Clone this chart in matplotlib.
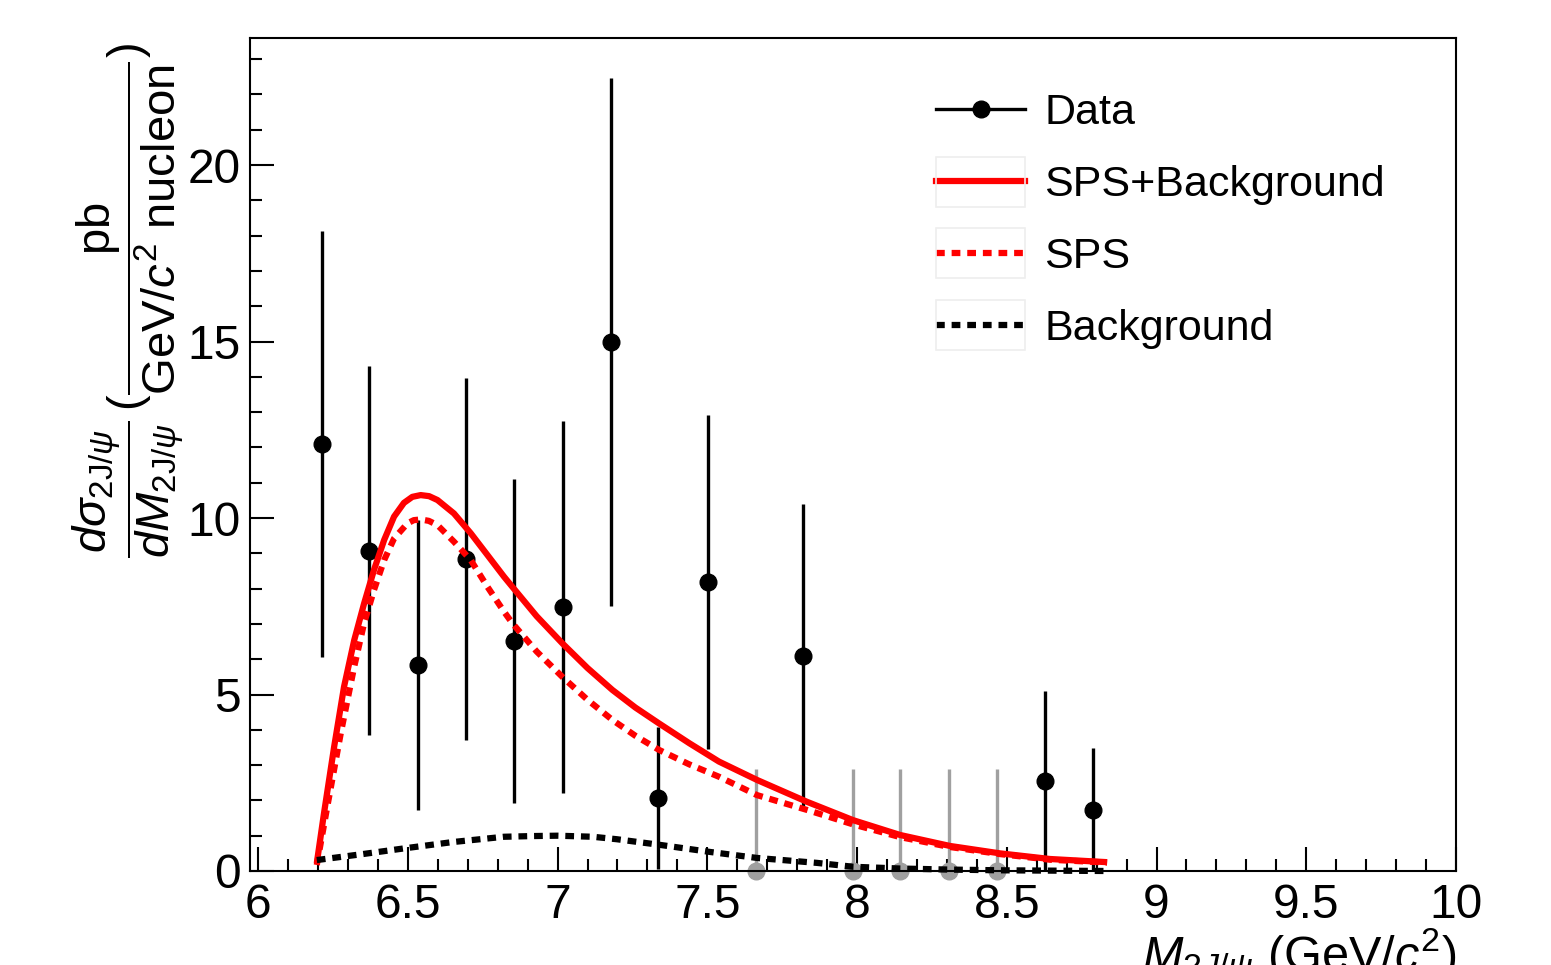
import matplotlib
matplotlib.use("Agg")
import matplotlib.pyplot as plt
from matplotlib.lines import Line2D
from matplotlib.patches import Rectangle
from matplotlib.ticker import MultipleLocator

plt.rcParams['font.family'] = ['Liberation Sans', 'DejaVu Sans']
plt.rcParams['mathtext.fontset'] = 'custom'
plt.rcParams['mathtext.rm'] = 'Liberation Sans'
plt.rcParams['mathtext.it'] = 'Liberation Sans:italic'
plt.rcParams['mathtext.bf'] = 'Liberation Sans:bold'

# ---- data ----
data_x = [6.212, 6.372, 6.533, 6.693, 6.853, 7.017, 7.177, 7.337, 7.501,
          7.821, 8.628, 8.788]
data_y = [12.1, 9.07, 5.84, 8.84, 6.52, 7.48, 14.99, 2.07, 8.19, 6.09, 2.55, 1.73]
data_err = [6.03, 5.23, 4.1, 5.12, 4.6, 5.28, 7.49, 2.0, 4.72, 4.3, 2.55, 1.75]

zero_x = [7.661, 7.985, 8.145, 8.306, 8.466]
zero_y = [0, 0, 0, 0, 0]
zero_err = [2.89, 2.89, 2.89, 2.89, 2.89]

tot_x = [6.196, 6.220, 6.254, 6.287, 6.321, 6.354, 6.387, 6.421, 6.454, 6.487,
         6.515, 6.543, 6.571, 6.599, 6.654, 6.710, 6.766, 6.821, 6.849, 6.93,
         7.016, 7.10, 7.183, 7.26, 7.339, 7.44, 7.539, 7.666, 7.833, 7.987,
         8.144, 8.31, 8.477, 8.644, 8.835]
tot_y = [0.22, 1.63, 3.52, 5.22, 6.54, 7.58, 8.53, 9.38, 10.04, 10.43,
         10.6, 10.65, 10.62, 10.51, 10.13, 9.57, 8.95, 8.34, 8.05, 7.22,
         6.45, 5.75, 5.13, 4.63, 4.18, 3.62, 3.10, 2.58, 1.96, 1.44,
         1.02, 0.71, 0.5, 0.34, 0.25]

sps_x = [6.196, 6.231, 6.276, 6.321, 6.354, 6.387, 6.421, 6.454, 6.499, 6.52,
         6.543, 6.57, 6.599, 6.654, 6.710, 6.766, 6.821, 6.849, 6.93, 7.016,
         7.10, 7.183, 7.26, 7.339, 7.44, 7.539, 7.666, 7.833, 7.987, 8.144,
         8.31, 8.477, 8.644, 8.835]
sps_y = [0.17, 1.82, 3.9, 5.79, 7.02, 7.96, 8.81, 9.42, 9.85, 9.94,
         9.96, 9.92, 9.80, 9.33, 8.81, 8.05, 7.35, 7.02, 6.22, 5.50,
         4.85, 4.28, 3.83, 3.43, 3.02, 2.67, 2.15, 1.73, 1.32, 0.96,
         0.68, 0.48, 0.32, 0.24]

bkg_x = [6.196, 6.35, 6.487, 6.65, 6.821, 6.918, 7.0, 7.118, 7.198, 7.342,
         7.509, 7.666, 7.866, 7.987, 8.144, 8.31, 8.477, 8.835]
bkg_y = [0.31, 0.48, 0.64, 0.82, 0.97, 0.99, 1.0, 0.97, 0.9, 0.74,
         0.54, 0.37, 0.23, 0.12, 0.07, 0.04, 0.02, 0.0]

xticks = [6, 6.5, 7, 7.5, 8, 8.5, 9, 9.5, 10]
xticklabels = ['6', '6.5', '7', '7.5', '8', '8.5', '9', '9.5', '10']
yticks = [0, 5, 10, 15, 20]
yticklabels = ['0', '5', '10', '15', '20']

W, H = 1551, 965

# ---- figure ----
fig = plt.figure(figsize=(W / 100, H / 100), dpi=100)
ax = fig.add_axes([250/W, 1-871/H, (1456-250)/W, (871-38)/H])

dash = (0, (1.4, 1.1))
LW = 4.5
ax.plot(tot_x, tot_y, color='#ff0000', lw=LW, solid_capstyle='butt',
        solid_joinstyle='round', zorder=4)
ax.plot(sps_x, sps_y, color='#ff0000', lw=LW, linestyle=dash, dash_capstyle='butt', zorder=4)
ax.plot(bkg_x, bkg_y, color='black', lw=LW, linestyle=dash, dash_capstyle='butt',
        zorder=6, clip_on=False)

ax.errorbar(zero_x, zero_y, yerr=zero_err, fmt='none', ecolor='#a0a0a0',
            elinewidth=2.4, capsize=0, zorder=3)
ax.plot(zero_x, zero_y, 'o', color='#a0a0a0', ms=12, zorder=5, clip_on=False)
ax.errorbar(data_x, data_y, yerr=data_err, fmt='o', color='black', ms=12,
            elinewidth=2.4, capsize=0, zorder=3)

ax.set_xlim(5.973, 10.0)
ax.set_ylim(0, 23.6)
ax.set_xticks(xticks)
ax.set_xticklabels(xticklabels)
ax.set_yticks(yticks)
ax.set_yticklabels(yticklabels)
ax.xaxis.set_minor_locator(MultipleLocator(0.1))
ax.yaxis.set_minor_locator(MultipleLocator(1))
ax.tick_params(which='both', direction='in', top=False, right=False, width=1.5, labelsize=34.5)
ax.tick_params(which='major', length=17)
ax.tick_params(which='minor', length=8.5)
ax.tick_params(axis='x', which='major', pad=9)
ax.tick_params(axis='y', which='major', pad=7)
for s in ax.spines.values():
    s.set_linewidth(1.5)
    s.set_zorder(7)

# axis titles
fig.text(1456/W, 1-926/H, r'$M_{2J/\psi}$ (GeV/$c^{2}$)', ha='right', va='top', fontsize=35)
fig.text(128/W, 1-300/H,
         r'$\dfrac{d\sigma_{2\mathrm{J}/\psi}}{dM_{2\mathrm{J}/\psi}}\,(\dfrac{\mathrm{pb}}{\mathrm{GeV}/c^{2}\ \mathrm{nucleon}})$',
         rotation=90, ha='center', va='center', fontsize=34)

# legend
for ytop in (157, 228, 300):
    fig.patches.append(Rectangle((936/W, 1-(ytop+50)/H), 89/W, 50/H,
                                 transform=fig.transFigure, fill=False,
                                 edgecolor='#eeeeee', lw=1.2, zorder=1))
handles = [
    Line2D([], [], color='black', lw=2.4, marker='o', ms=12),
    Line2D([], [], color='#ff0000', lw=LW),
    Line2D([], [], color='#ff0000', lw=LW, linestyle=dash, dash_capstyle='butt'),
    Line2D([], [], color='black', lw=LW, linestyle=dash, dash_capstyle='butt'),
]
labels = ['Data', 'SPS+Background', 'SPS', 'Background']
leg = ax.legend(handles, labels, loc='upper left',
                bbox_to_anchor=((936-250)/1206, (871-93)/833),
                frameon=False, fontsize=31, handlelength=2.07, handletextpad=0.44,
                labelspacing=0.74, borderaxespad=0, borderpad=0)

fig.savefig('out.png', dpi=100)
